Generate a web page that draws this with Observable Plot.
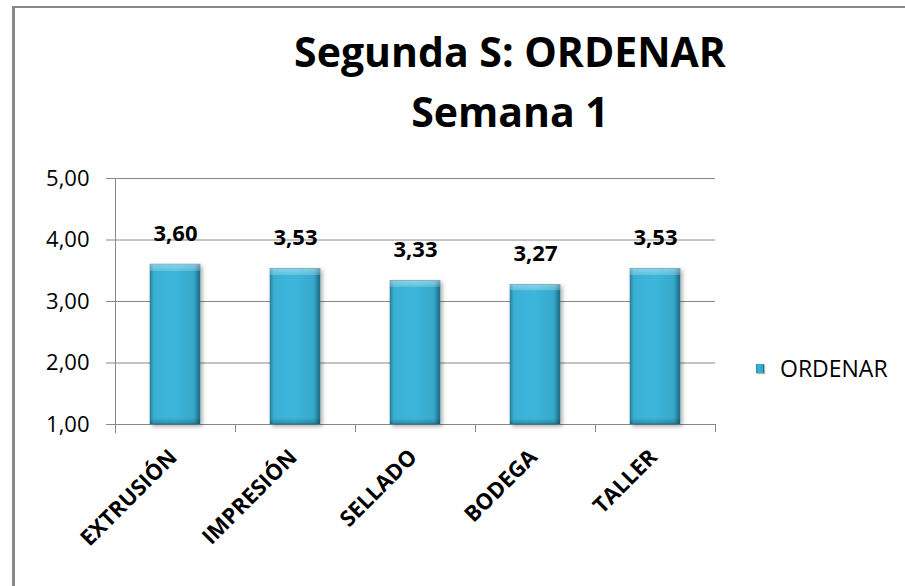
<!DOCTYPE html>
<html>
<head>
<meta charset="utf-8">
<script src="https://cdn.jsdelivr.net/npm/d3@7"></script>
<script src="https://cdn.jsdelivr.net/npm/@observablehq/plot@0.6"></script>
<style>
  html, body { margin: 0; padding: 0; background: #fff; }
  #wrap { position: relative; width: 905px; height: 586px; overflow: hidden; font-family: "Open Sans", sans-serif; }
  #border { position: absolute; left: 12px; top: 6px; width: 1000px; height: 1000px; border-left: 3px solid #888; border-top: 2px solid #888; box-sizing: border-box; }
  #title { position: absolute; left: 0; width: 1020px; top: 21px; text-align: center; font-weight: bold; font-size: 41px; line-height: 60px; color: #000; }
  #chart { position: absolute; left: 0; top: 0; }
  #legend { position: absolute; left: 756px; top: 352px; display: flex; align-items: center; font-size: 23px; color: #000; }
  #legend .sw { width: 8px; height: 9px; margin-right: 16px; background: linear-gradient(to right, #2a86a3, #3bb6da 30%, #34a6c8 80%, #1f6880); box-shadow: 1px 1px 1px rgba(0,0,0,0.3); }
</style>
</head>
<body>
<div id="wrap">
  <div id="border"></div>
  <div id="chart"></div>
  <div id="title">Segunda S: ORDENAR<br>Semana 1</div>
  <div id="legend"><div class="sw"></div><span id="legendLabel"></span></div>
</div>
<script>
const categories = ["EXTRUSIÓN", "IMPRESIÓN", "SELLADO", "BODEGA", "TALLER"];
const values = [3.60, 3.53, 3.33, 3.27, 3.53];
const yTicks = [1, 2, 3, 4, 5];
const seriesName = "ORDENAR";

const data = categories.map((c, i) => ({category: c, value: values[i]}));
const fmt = v => v.toFixed(2).replace(".", ",");

document.getElementById("legendLabel").textContent = seriesName;

const W = 905, H = 586;
const mL = 115, mR = 190, mT = 178, mB = 162;
const step = (W - mL - mR) / categories.length;
const pad = 0.583;

const chart = Plot.plot({
  width: W,
  height: H,
  marginLeft: mL,
  marginRight: mR,
  marginTop: mT,
  marginBottom: mB,
  style: {fontFamily: "Open Sans, sans-serif", background: "transparent", color: "#000"},
  x: {domain: categories, paddingInner: pad, paddingOuter: pad / 2, align: 0.5},
  y: {domain: [1, 5]},
  marks: [
    Plot.ruleY(yTicks, {stroke: "#888", strokeWidth: 1}),
    Plot.frame({anchor: "left", stroke: "#888", insetBottom: -8}),
    Plot.ruleX(categories, {x: d => d, y1: 1, y2: 1, insetBottom: -8, dx: -step / 2, stroke: "#888"}),
    Plot.ruleX([categories[categories.length - 1]], {x: d => d, y1: 1, y2: 1, insetBottom: -8, dx: step / 2, stroke: "#888"}),
    Plot.barY(data, {x: "category", y1: 1, y2: "value", fill: "#3bb6da", className: "bars"}),
    Plot.barY(data, {x: "category", y1: 1, y2: "value", fill: "#fff", className: "bevel"}),
    Plot.text(data, {x: "category", y: "value", text: d => fmt(d.value), dy: -24, lineAnchor: "bottom", fontWeight: "bold", fontSize: 22, fill: "#000"}),
    Plot.axisY({ticks: yTicks, tickFormat: fmt, tickSize: 9, tickPadding: 17, fontSize: 22, stroke: "#888", fill: "#000", label: null}),
    Plot.axisX({tickSize: 0, tickRotate: -45, tickPadding: 14, dy: 15, dx: -2, fontSize: 22, fontWeight: "bold", fill: "#000", label: null})
  ]
});
document.getElementById("chart").appendChild(chart);

// gradient defs
const svg = d3.select(chart);
const defs = svg.insert("defs", ":first-child");
const g1 = defs.append("linearGradient").attr("id", "barGrad").attr("x1", 0).attr("x2", 1).attr("y1", 0).attr("y2", 0);
[[0, "#2a83a0"], [0.08, "#39b0d4"], [0.5, "#3bb6da"], [0.88, "#35a8ca"], [1, "#1e6880"]]
  .forEach(([o, c]) => g1.append("stop").attr("offset", o).attr("stop-color", c));
const g2 = defs.append("linearGradient").attr("id", "bevelGrad").attr("x1", 0).attr("x2", 0).attr("y1", 0).attr("y2", 1);
[[0, "#ffffff", 0.4], [0.04, "#ffffff", 0.2], [0.045, "#ffffff", 0], [0.96, "#000000", 0], [1, "#000000", 0.22]]
  .forEach(([o, c, a]) => g2.append("stop").attr("offset", o).attr("stop-color", c).attr("stop-opacity", a));
const f = defs.append("filter").attr("id", "shadow").attr("x", "-20%").attr("y", "-20%").attr("width", "150%").attr("height", "150%");
f.append("feDropShadow").attr("dx", 2).attr("dy", 2).attr("stdDeviation", 2).attr("flood-color", "#000").attr("flood-opacity", 0.35);

svg.selectAll(".bars rect").attr("fill", "url(#barGrad)").attr("filter", "url(#shadow)").attr("stroke", "#25758e").attr("stroke-width", 0.5);
svg.selectAll(".bevel rect").attr("fill", "url(#bevelGrad)");
</script>
</body>
</html>
